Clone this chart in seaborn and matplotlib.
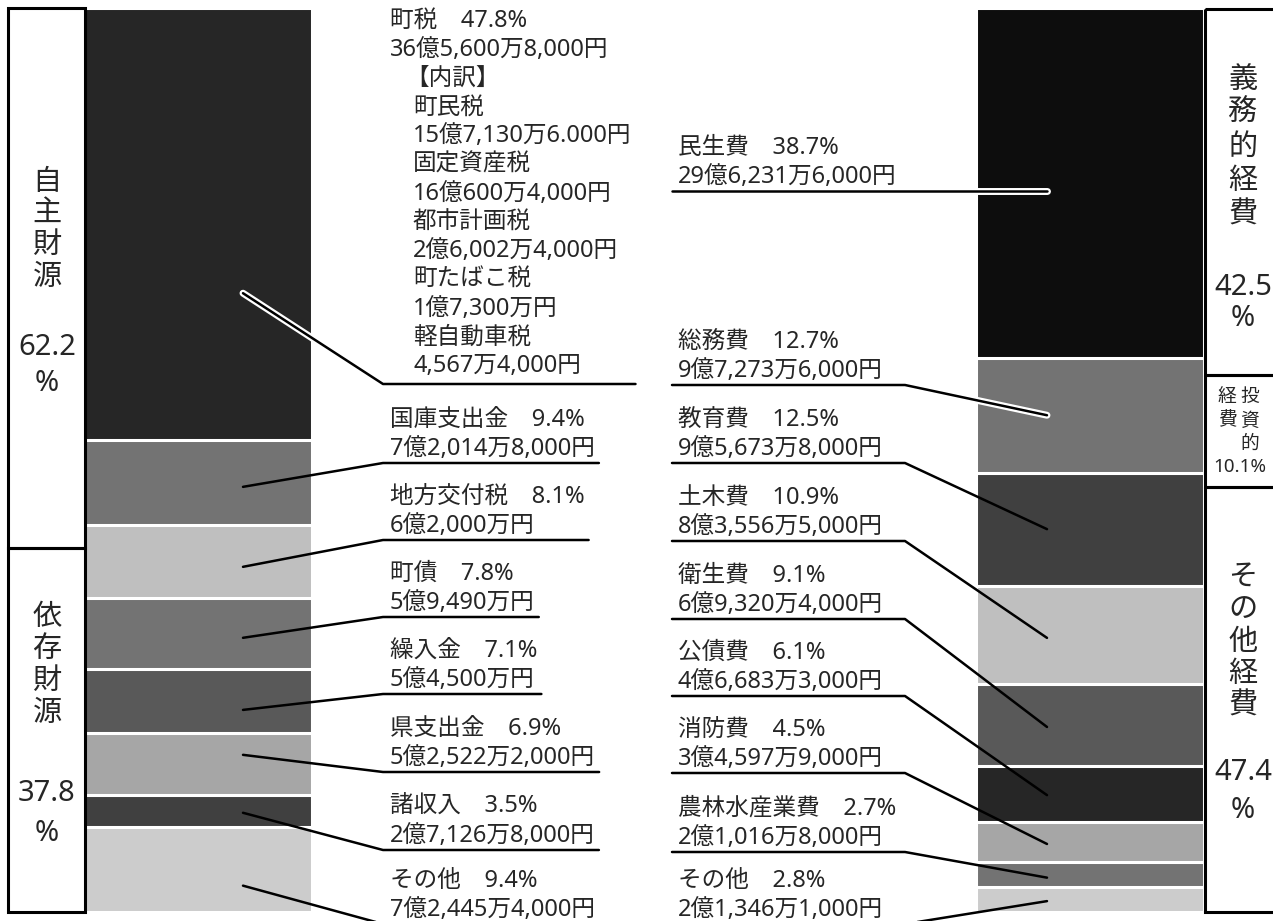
import matplotlib
matplotlib.use("Agg")
import matplotlib.pyplot as plt
import matplotlib.patheffects as pe
from matplotlib.patches import Rectangle
import seaborn as sns
import pandas as pd
import numpy as np

# 歳入
rev_items = ["町税", "国庫支出金", "地方交付税", "町債", "繰入金", "県支出金", "諸収入", "その他"]
rev_pct = [47.8, 9.4, 8.1, 7.8, 7.1, 6.9, 3.5, 9.4]
rev_amount = ["36億5,600万8,000円", "7億2,014万8,000円", "6億2,000万円", "5億9,490万円",
              "5億4,500万円", "5億2,522万2,000円", "2億7,126万8,000円", "7億2,445万4,000円"]
rev_colors = ["#262626", "#737373", "#bfbfbf", "#737373", "#595959", "#a6a6a6", "#404040", "#cccccc"]

# 町税の内訳
tax_items = ["町民税", "固定資産税", "都市計画税", "町たばこ税", "軽自動車税"]
tax_amount = ["15億7,130万6.000円", "16億600万4,000円", "2億6,002万4,000円", "1億7,300万円", "4,567万4,000円"]

# 歳出
exp_items = ["民生費", "総務費", "教育費", "土木費", "衛生費", "公債費", "消防費", "農林水産業費", "その他"]
exp_pct = [38.7, 12.7, 12.5, 10.9, 9.1, 6.1, 4.5, 2.7, 2.8]
exp_amount = ["29億6,231万6,000円", "9億7,273万6,000円", "9億5,673万8,000円", "8億3,556万5,000円",
              "6億9,320万4,000円", "4億6,683万3,000円", "3億4,597万9,000円", "2億1,016万8,000円",
              "2億1,346万1,000円"]
exp_colors = ["#0d0d0d", "#737373", "#404040", "#bfbfbf", "#595959", "#262626", "#a6a6a6", "#737373", "#cccccc"]

rev_groups = ["自主財源", "依存財源"]
rev_group_pct = [62.2, 37.8]
exp_groups = ["義務的経費", "投資的経費", "その他経費"]
exp_group_pct = [42.5, 10.1, 47.4]

sides = ["歳入", "歳出"]

sns.set_theme(style="white")
plt.rcParams["font.family"] = ["Noto Sans", "Noto Sans CJK JP", "DejaVu Sans"]

W, H = 1273, 921
fig = plt.figure(figsize=(W / 100, H / 100), dpi=100)
fig.patch.set_facecolor("white")

# bars axes: categories on x, percent on y (0 at top)
bar_top, bar_bottom = 8, 912
centers_px = [197.5, 1090]
unit = centers_px[1] - centers_px[0]
bars_ax = fig.add_axes([0, (H - bar_bottom) / H, 1, (bar_bottom - bar_top) / H])
bar_w = 228 / unit

for side, pcts, colors in [(sides[0], rev_pct, rev_colors), (sides[1], exp_pct, exp_colors)]:
    cum = np.cumsum(pcts)
    for i in reversed(range(len(pcts))):
        df = pd.DataFrame({"side": [side], "value": [cum[i]]})
        sns.barplot(data=df, x="side", y="value", order=sides, color=colors[i], saturation=1,
                    width=bar_w, edgecolor="white", linewidth=2.2, errorbar=None, ax=bars_ax)

bars_ax.set_xlim(-centers_px[0] / unit, (W - centers_px[0]) / unit)
bars_ax.set_ylim(100, 0)
bars_ax.axis("off")

# overlay in pixel coordinates for labels and leader lines
ov = fig.add_axes([0, 0, 1, 1], zorder=3)
ov.set_xlim(0, W)
ov.set_ylim(H, 0)
ov.axis("off")
ov.patch.set_alpha(0)


def pct_to_px(p):
    disp = bars_ax.transData.transform((0, p))
    return ov.transData.inverted().transform(disp)[1]


fs = 17
lw = 1.8
halo = [pe.Stroke(linewidth=5, foreground="white"), pe.Normal()]
renderer = fig.canvas.get_renderer()

# ---- left labels ----
left_text_x = 390
left_ul_x0 = 383
left_anchor_x = 243
left_ul_y = [384, 463, 540, 617, 694, 772, 850, 924]
left_frac = [0.66, 0.55, 0.57, 0.56, 0.64, 0.35, 0.55, 0.69]
rev_cum = np.concatenate([[0], np.cumsum(rev_pct)])

for i, name in enumerate(rev_items):
    ul = left_ul_y[i]
    texts = []
    if i == 0:
        lines = [(f"{name}\u3000{rev_pct[i]}%", left_text_x), (rev_amount[i], left_text_x),
                 ("【内訳】", 405)]
        for tn, ta in zip(tax_items, tax_amount):
            lines += [(tn, 413), (ta, 413)]
        for k, (s, x) in enumerate(lines):
            texts.append(ov.text(x, 27 + k * 28.75, s, fontsize=fs, va="baseline", ha="left"))
    else:
        texts.append(ov.text(left_text_x, ul - 37, f"{name}\u3000{rev_pct[i]}%", fontsize=fs,
                             va="baseline", ha="left"))
        texts.append(ov.text(left_text_x, ul - 8, rev_amount[i], fontsize=fs,
                             va="baseline", ha="left"))
    right = max(t.get_window_extent(renderer).x1 for t in texts)
    ul_x1 = right + 4
    ay = pct_to_px(rev_cum[i] + left_frac[i] * rev_pct[i])
    ov.plot([left_anchor_x, left_ul_x0, ul_x1], [ay, ul, ul], color="black", lw=lw,
            solid_joinstyle="round", path_effects=halo if i == 0 else None)

# ---- right labels ----
right_text_x = 678
right_ul_x0 = 672
right_anchor_x = 1047
right_kink_x = [1047, 905, 905, 905, 905, 905, 905, 905, 905]
right_ul_y = [191, 385, 463, 541, 619, 696, 773, 852, 924]
right_frac = [0.52, 0.5, 0.5, 0.53, 0.52, 0.52, 0.55, 0.63, 0.57]
right_halo = [True, True] + [False] * 7
exp_cum = np.concatenate([[0], np.cumsum(exp_pct)])

for i, name in enumerate(exp_items):
    ul = right_ul_y[i]
    ov.text(right_text_x, ul - 37, f"{name}\u3000{exp_pct[i]}%", fontsize=fs, va="baseline", ha="left")
    ov.text(right_text_x, ul - 8, exp_amount[i], fontsize=fs, va="baseline", ha="left")
    ay = ul if i == 0 else pct_to_px(exp_cum[i] + right_frac[i] * exp_pct[i])
    ov.plot([right_ul_x0, right_kink_x[i], right_anchor_x], [ul, ul, ay], color="black", lw=lw,
            solid_joinstyle="round", path_effects=halo if right_halo[i] else None)

# ---- group boxes ----
box_lw = 2.2
gfs = 21
left_boxes = [(8, 548), (548, 912)]
for (y0, y1) in left_boxes:
    ov.add_patch(Rectangle((8, y0), 77, y1 - y0, fill=False, ec="black", lw=box_lw, zorder=4))
right_boxes = [(9, 375), (375, 487), (487, 912)]
for (y0, y1) in right_boxes:
    ov.add_patch(Rectangle((1205, y0), 100, y1 - y0, fill=False, ec="black", lw=box_lw, zorder=4,
                           clip_on=False))

left_group_layout = [(47, 182, 31.7, 347, 383), (47, 617, 32.0, 793, 833)]
for g, p, (x, y0, step, ny, py) in zip(rev_groups, rev_group_pct, left_group_layout):
    for k, ch in enumerate(g):
        ov.text(x, y0 + k * step, ch, fontsize=gfs, ha="center", va="center")
    ov.text(x, ny, f"{p}", fontsize=gfs, ha="center", va="center")
    ov.text(x, py, "%", fontsize=gfs, ha="center", va="center")

right_group_layout = {0: (1243, 80, 33.7, 287, 318), 2: (1243, 578, 32.0, 772, 810)}
for gi, (x, y0, step, ny, py) in right_group_layout.items():
    for k, ch in enumerate(exp_groups[gi]):
        ov.text(x, y0 + k * step, ch, fontsize=gfs, ha="center", va="center")
    ov.text(x, ny, f"{exp_group_pct[gi]}", fontsize=gfs, ha="center", va="center")
    ov.text(x, py, "%", fontsize=gfs, ha="center", va="center")

# 投資的経費: two vertical columns, right to left
sfs = 13.5
inv = exp_groups[1]
for k, ch in enumerate(inv[:3]):
    ov.text(1250, 397 + k * 23.5, ch, fontsize=sfs, ha="center", va="center")
for k, ch in enumerate(inv[3:]):
    ov.text(1227, 397 + k * 23.5, ch, fontsize=sfs, ha="center", va="center")
ov.text(1240, 467, f"{exp_group_pct[1]}%", fontsize=sfs, ha="center", va="center")

fig.savefig("out.png", dpi=100, facecolor="white")
